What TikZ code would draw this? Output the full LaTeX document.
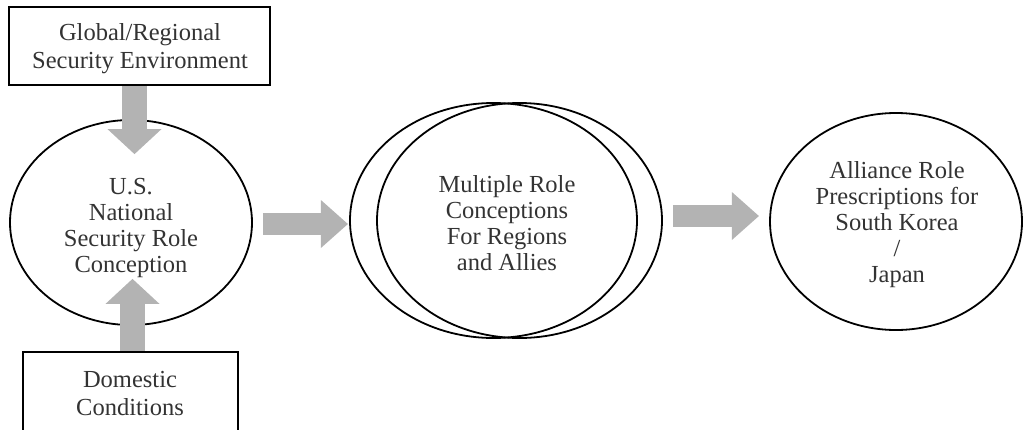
\documentclass[tikz,border=0pt]{standalone}
\usepackage{fontspec}
\setmainfont{Liberation Serif}
\usetikzlibrary{shapes.geometric,arrows.meta}
\definecolor{txtc}{HTML}{333333}
\definecolor{arrc}{HTML}{B3B3B3}
\begin{document}
\begin{tikzpicture}[x=1pt,y=-1pt,
  txt/.style={text=txtc,align=center,font=\fontsize{24.5}{26}\selectfont,inner sep=0pt},
  boxtxt/.style={txt,font=\fontsize{24.5}{28.5}\selectfont},
  box/.style={draw=black,line width=2.2pt,inner sep=0pt},
  ell/.style={ellipse,draw=black,line width=1.8pt,inner sep=0pt},
  blkv/.style={draw=arrc,line width=25pt,-{Triangle[length=25pt,width=54pt,line width=0pt]}},
  blkh/.style={draw=arrc,line width=22pt,-{Triangle[length=27pt,width=48pt,line width=0pt]}}]
\useasboundingbox (0,0) rectangle (1023,429);
% boxes
\node[box,minimum width=261pt,minimum height=78pt] (top) at (139.5,46) {};
\node[box,minimum width=215pt,minimum height=88pt] (bot) at (130.5,396) {};
% ellipses
\node[ell,minimum width=242pt,minimum height=205pt] (usn) at (131,222.5) {};
\node[ell,minimum width=287pt,minimum height=235pt] (mlft) at (493.5,220.5) {};
\node[ell,minimum width=285pt,minimum height=235pt] (mrgt) at (519.5,220.5) {};
\node[ell,minimum width=252pt,minimum height=217pt] (all) at (896,221.5) {};
% block arrows
\draw[blkv] ([xshift=-5pt]top.south) -- ++(0,68);
\draw[blkv] ([xshift=2pt]bot.north) -- ++(0,-72);
\draw[blkh] ([shift={(10,1.5)}]usn.east) -- ++(85,0);
\draw[blkh] ([shift={(10,-4.5)}]mrgt.east) -- ++(86,0);
% texts
\node[boxtxt] (topt) at (140,48.5) {Global/Regional\\Security Environment};
\node[boxtxt] (bott) at (130,393.5) {Domestic\\Conditions};
\node[txt] (usnt) at (131,227.5) {U.S.\\National\\Security Role\\Conception};
\node[txt] (mt) at (507,223.5) {Multiple Role\\Conceptions\\For Regions\\and Allies};
\node[txt] (allt) at (897,224.5) {Alliance Role\\Prescriptions for\\South Korea\\/\\Japan};
\end{tikzpicture}
\end{document}
